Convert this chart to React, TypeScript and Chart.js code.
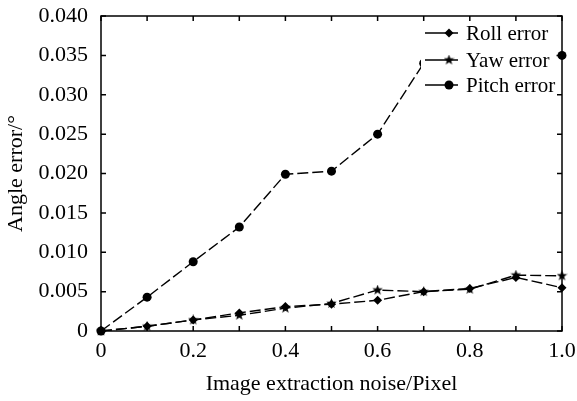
import React, { useEffect, useRef } from 'react';
import { Chart, registerables } from 'chart.js';

Chart.register(...registerables);

// ---------- data ----------
const noiseLevels = [0, 0.1, 0.2, 0.3, 0.4, 0.5, 0.6, 0.7, 0.8, 0.9, 1.0];
const rollError = [0, 0.0006, 0.0014, 0.0023, 0.0031, 0.0034, 0.0039, 0.005, 0.0054, 0.0068, 0.0055];
const yawError = [0, 0.0006, 0.0014, 0.002, 0.0029, 0.0035, 0.0052, 0.005, 0.0053, 0.0071, 0.007];
const pitchError = [0, 0.0043, 0.0088, 0.0132, 0.0199, 0.0203, 0.025, 0.034, 0.0345, 0.0348, 0.035];
const seriesNames = ['Roll error', 'Yaw error', 'Pitch error'];
const xTickLabels = ['0', '0.2', '0.4', '0.6', '0.8', '1.0'];
const yTickLabels = ['0', '0.005', '0.010', '0.015', '0.020', '0.025', '0.030', '0.035', '0.040'];
const xTitle = 'Image extraction noise/Pixel';
const yTitle = 'Angle error/°';

const FONT = "'Liberation Serif', 'Times New Roman', serif";
const FONT_SIZE = 22;
const LEGEND_FONT_SIZE = 21;

function makeStar(size: number): HTMLCanvasElement {
  const c = document.createElement('canvas');
  c.width = size;
  c.height = size;
  const g = c.getContext('2d')!;
  const cx = size / 2, cy = size / 2, R = size / 2, r = R * 0.42;
  g.beginPath();
  for (let i = 0; i < 10; i++) {
    const a = -Math.PI / 2 + (i * Math.PI) / 5;
    const rad = i % 2 === 0 ? R : r;
    g.lineTo(cx + rad * Math.cos(a), cy + rad * Math.sin(a));
  }
  g.closePath();
  g.fillStyle = '#000';
  g.fill();
  return c;
}

function drawMarker(ctx: CanvasRenderingContext2D, style: any, x: number, y: number, r: number) {
  ctx.save();
  ctx.fillStyle = '#000';
  if (style === 'circle') {
    ctx.beginPath();
    ctx.arc(x, y, r, 0, Math.PI * 2);
    ctx.fill();
  } else if (style === 'rectRot') {
    ctx.beginPath();
    ctx.moveTo(x - r, y);
    ctx.lineTo(x, y - r);
    ctx.lineTo(x + r, y);
    ctx.lineTo(x, y + r);
    ctx.closePath();
    ctx.fill();
  } else if (style instanceof HTMLCanvasElement) {
    ctx.drawImage(style, x - style.width / 2, y - style.height / 2);
  }
  ctx.restore();
}

export default function App() {
  const ref = useRef<HTMLCanvasElement>(null);

  useEffect(() => {
    if (!ref.current) return;
    const star = makeStar(11);
    const styles: any[] = ['rectRot', star, 'circle'];
    const values = [rollError, yawError, pitchError];

    const datasets = values.map((vals, i) => ({
      label: seriesNames[i],
      data: noiseLevels.map((x, j) => ({ x, y: vals[j] })),
      borderColor: '#000',
      backgroundColor: '#000',
      borderWidth: 1.4,
      borderDash: [11, 4],
      pointStyle: styles[i],
      pointRadius: 4.5,
      pointBorderWidth: 0,
      pointBackgroundColor: '#000',
      pointBorderColor: '#000',
      tension: 0,
      clip: false as any,
      order: 2 - i,
    }));

    const legendPlugin = {
      id: 'customLegend',
      afterDatasetsDraw(chart: any) {
        const { ctx, chartArea } = chart;
        const { top, right } = chartArea;
        const boxLeft = right - 141;
        ctx.save();
        ctx.fillStyle = '#fff';
        ctx.fillRect(boxLeft, top + 1, 135, 79);
        const rows = [17, 44, 69];
        ctx.font = `${LEGEND_FONT_SIZE}px ${FONT}`;
        ctx.textBaseline = 'alphabetic';
        ctx.textAlign = 'left';
        seriesNames.forEach((name, i) => {
          const y = top + rows[i];
          ctx.strokeStyle = '#000';
          ctx.lineWidth = 1.4;
          ctx.setLineDash([]);
          ctx.beginPath();
          ctx.moveTo(boxLeft + 4, y);
          ctx.lineTo(boxLeft + 37, y);
          ctx.stroke();
          drawMarker(ctx, styles[i], boxLeft + 28, y, 4.5);
          ctx.fillStyle = '#000';
          ctx.fillText(name, boxLeft + 45, y + 6.5);
        });
        ctx.restore();
      },
    };

    const framePlugin = {
      id: 'frame',
      afterDraw(chart: any) {
        const { ctx, chartArea, scales } = chart;
        const { left, right, top, bottom } = chartArea;
        const tl = 5;
        ctx.save();
        ctx.strokeStyle = '#000';
        ctx.lineWidth = 1.5;
        ctx.setLineDash([]);
        ctx.strokeRect(left, top, right - left, bottom - top);
        ctx.beginPath();
        scales.x.ticks.forEach((t: any) => {
          const px = scales.x.getPixelForValue(t.value);
          ctx.moveTo(px, bottom);
          ctx.lineTo(px, bottom - tl);
          ctx.moveTo(px, top);
          ctx.lineTo(px, top + tl);
        });
        scales.y.ticks.forEach((t: any) => {
          const py = scales.y.getPixelForValue(t.value);
          ctx.moveTo(left, py);
          ctx.lineTo(left + tl, py);
          ctx.moveTo(right, py);
          ctx.lineTo(right - tl, py);
        });
        ctx.stroke();
        ctx.restore();
      },
    };

    const chart = new Chart(ref.current, {
      type: 'line',
      data: { datasets: datasets as any },
      options: {
        animation: false,
        responsive: false,
        devicePixelRatio: 1,
        layout: { padding: { top: 16, right: 15, left: 0, bottom: 0 } },
        plugins: {
          legend: { display: false },
          tooltip: { enabled: false },
        },
        scales: {
          x: {
            type: 'linear',
            min: 0,
            max: 1,
            grid: { display: false, drawTicks: false },
            border: { display: false },
            ticks: {
              stepSize: 0.1,
              autoSkip: false,
              maxRotation: 0,
              padding: 7,
              color: '#000',
              font: { family: FONT, size: FONT_SIZE },
              callback: (_v: any, i: number) => (i % 2 === 0 ? xTickLabels[i / 2] : ''),
            },
            title: {
              display: true,
              text: xTitle,
              color: '#000',
              font: { family: FONT, size: FONT_SIZE },
              padding: { top: 0, bottom: 4 },
            },
            afterFit: (s: any) => {
              s.height = 70;
              s.paddingLeft = 0;
              s.paddingRight = 0;
            },
          },
          y: {
            type: 'linear',
            min: 0,
            max: 0.04,
            grid: { display: false, drawTicks: false },
            border: { display: false },
            ticks: {
              stepSize: 0.005,
              padding: 13,
              color: '#000',
              font: { family: FONT, size: FONT_SIZE },
              callback: (_v: any, i: number) => yTickLabels[i],
            },
            title: {
              display: true,
              text: yTitle,
              color: '#000',
              font: { family: FONT, size: FONT_SIZE },
              padding: { top: 3, bottom: 0 },
            },
            afterFit: (s: any) => {
              s.width = 101;
              s.paddingTop = 0;
              s.paddingBottom = 0;
            },
          },
        },
      },
      plugins: [legendPlugin, framePlugin],
    });
    return () => chart.destroy();
  }, []);

  return (
    <div style={{ position: 'fixed', left: 0, top: 0, width: 577, height: 401, background: '#fff' }}>
      <canvas ref={ref} width={577} height={401} style={{ display: 'block' }} />
    </div>
  );
}
